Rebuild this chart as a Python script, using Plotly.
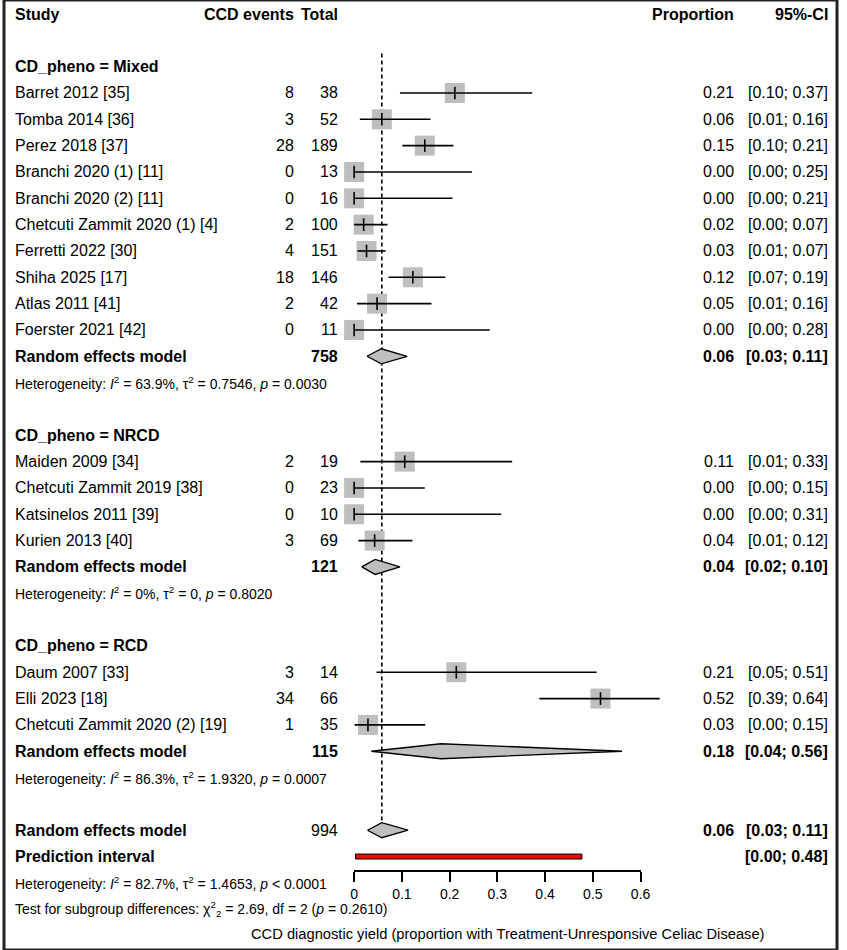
import plotly.graph_objects as go

# study rows
mixed_study = ["Barret 2012 [35]", "Tomba 2014 [36]", "Perez 2018 [37]", "Branchi 2020 (1) [11]",
               "Branchi 2020 (2) [11]", "Chetcuti Zammit 2020 (1) [4]", "Ferretti 2022 [30]",
               "Shiha 2025 [17]", "Atlas 2011 [41]", "Foerster 2021 [42]"]
mixed_events = [8, 3, 28, 0, 0, 2, 4, 18, 2, 0]
mixed_total = [38, 52, 189, 13, 16, 100, 151, 146, 42, 11]
mixed_prop = [0.211, 0.058, 0.148, 0.0, 0.0, 0.020, 0.026, 0.123, 0.048, 0.0]
mixed_lower = [0.096, 0.012, 0.101, 0.0, 0.0, 0.0, 0.007, 0.072, 0.006, 0.0]
mixed_upper = [0.373, 0.160, 0.208, 0.247, 0.206, 0.070, 0.066, 0.191, 0.162, 0.284]

nrcd_study = ["Maiden 2009 [34]", "Chetcuti Zammit 2019 [38]", "Katsinelos 2011 [39]", "Kurien 2013 [40]"]
nrcd_events = [2, 0, 0, 3]
nrcd_total = [19, 23, 10, 69]
nrcd_prop = [0.106, 0.0, 0.0, 0.043]
nrcd_lower = [0.013, 0.0, 0.0, 0.009]
nrcd_upper = [0.331, 0.148, 0.308, 0.122]

rcd_study = ["Daum 2007 [33]", "Elli 2023 [18]", "Chetcuti Zammit 2020 (2) [19]"]
rcd_events = [3, 34, 1]
rcd_total = [14, 66, 35]
rcd_prop = [0.214, 0.516, 0.029]
rcd_lower = [0.047, 0.388, 0.001]
rcd_upper = [0.508, 0.640, 0.149]

# random effects model per subgroup
group_names = ["Mixed", "NRCD", "RCD"]
group_prop = [0.057, 0.044, 0.182]
group_lower = [0.027, 0.016, 0.036]
group_upper = [0.111, 0.096, 0.561]
group_het = ["<i>I</i><sup>2</sup> = 63.9%, τ<sup>2</sup> = 0.7546, <i>p</i> = 0.0030",
             "<i>I</i><sup>2</sup> = 0%, τ<sup>2</sup> = 0, <i>p</i> = 0.8020",
             "<i>I</i><sup>2</sup> = 86.3%, τ<sup>2</sup> = 1.9320, <i>p</i> = 0.0007"]

# overall model
overall_prop = 0.058
overall_lower = 0.028
overall_upper = 0.113
pred_lower = 0.003
pred_upper = 0.477
overall_het = "<i>I</i><sup>2</sup> = 82.7%, τ<sup>2</sup> = 1.4653, <i>p</i> &lt; 0.0001"
subgroup_test = "χ<sup>2</sup><sub>2</sub> = 2.69, df = 2 (<i>p</i> = 0.2610)"

axis_ticks = [0, 0.1, 0.2, 0.3, 0.4, 0.5, 0.6]
axis_title = "CCD diagnostic yield (proportion with Treatment-Unresponsive Celiac Disease)"

groups = [
    (mixed_study, mixed_events, mixed_total, mixed_prop, mixed_lower, mixed_upper),
    (nrcd_study, nrcd_events, nrcd_total, nrcd_prop, nrcd_lower, nrcd_upper),
    (rcd_study, rcd_events, rcd_total, rcd_prop, rcd_lower, rcd_upper),
]

W, H = 847, 950
FONT = "Liberation Sans, Arial, sans-serif"
GREY = "#BEBEBE"
ROW_PX = 26.33   # pixel height of a table row
TOP_PX = 14      # pixel centre of the header row
X0_PX = 356      # pixel of proportion 0
UNIT_PX = 485.5  # pixels per 1.0 of proportion
DIAM_H = 0.285   # half height of diamonds in rows
PI_H = 0.095

# text columns (pixel positions)
COL_STUDY = 10
COL_EVENTS = 296
COL_TOTAL = 341
COL_PROP = 743
COL_CI = 839
COL_XLAB = 512

ann = []


def text(x, row, s, anchor="right", size=16, bold=False):
    if bold:
        s = "<b>" + s + "</b>"
    ann.append(dict(x=x / W, xref="paper", y=row, yref="y", text=s, showarrow=False,
                    xanchor=anchor, yanchor="middle", borderpad=0,
                    font=dict(family=FONT, size=size, color="#000000")))


def ci_text(lo, hi):
    return "[%.2f; %.2f]" % (lo, hi)


# header
text(COL_STUDY, 0, "Study", "left", bold=True)
text(COL_EVENTS, 0, "CCD events", bold=True)
text(COL_TOTAL, 0, "Total", bold=True)
text(COL_PROP, 0, "Proportion", bold=True)
text(COL_CI, 0, "95%-CI", bold=True)

sq_x, sq_y = [], []
line_x, line_y = [], []
traces = []

row = 2
for g, (study, events, total, prop, lower, upper) in enumerate(groups):
    text(COL_STUDY, row, "CD_pheno = " + group_names[g], "left", bold=True)
    row += 1
    for i in range(len(study)):
        text(COL_STUDY, row, study[i], "left")
        text(COL_EVENTS, row, str(events[i]))
        text(COL_TOTAL, row, str(total[i]))
        text(COL_PROP, row, "%.2f" % prop[i])
        text(COL_CI, row, ci_text(lower[i], upper[i]))
        sq_x.append(prop[i])
        sq_y.append(row)
        line_x += [lower[i], upper[i], None]
        line_y += [row, row, None]
        row += 1
    # subgroup random effects diamond
    p, lo, hi = group_prop[g], group_lower[g], group_upper[g]
    traces.append(go.Scatter(x=[lo, p, hi, p, lo], y=[row, row - DIAM_H, row, row + DIAM_H, row],
                             mode="lines", fill="toself", fillcolor=GREY,
                             line=dict(color="#000000", width=1.3)))
    text(COL_STUDY, row, "Random effects model", "left", bold=True)
    text(COL_TOTAL, row, str(sum(total)), bold=True)
    text(COL_PROP, row, "%.2f" % p, bold=True)
    text(COL_CI, row, ci_text(lo, hi), bold=True)
    text(COL_STUDY, row + 1, "Heterogeneity: " + group_het[g], "left", size=14)
    row += 3

# overall model
grand_total = sum(sum(gr[2]) for gr in groups)
text(COL_STUDY, row, "Random effects model", "left", bold=True)
text(COL_TOTAL, row, str(grand_total))
text(COL_PROP, row, "%.2f" % overall_prop, bold=True)
text(COL_CI, row, ci_text(overall_lower, overall_upper), bold=True)
traces.append(go.Scatter(x=[overall_lower, overall_prop, overall_upper, overall_prop, overall_lower],
                         y=[row, row - DIAM_H, row, row + DIAM_H, row],
                         mode="lines", fill="toself", fillcolor=GREY,
                         line=dict(color="#000000", width=1.3)))
overall_row = row
row += 1
text(COL_STUDY, row, "Prediction interval", "left", bold=True)
text(COL_CI, row, ci_text(pred_lower, pred_upper), bold=True)
traces.append(go.Scatter(x=[pred_lower, pred_upper, pred_upper, pred_lower, pred_lower],
                         y=[row - PI_H, row - PI_H, row + PI_H, row + PI_H, row - PI_H],
                         mode="lines", fill="toself", fillcolor="#FF0000",
                         line=dict(color="#000000", width=1)))
row += 1
text(COL_STUDY, row, "Heterogeneity: " + overall_het, "left", size=14)
row += 1
text(COL_STUDY, row, "Test for subgroup differences: " + subgroup_test, "left", size=14)
text(COL_XLAB, row + 0.95, axis_title, "center", size=14.7)

fig = go.Figure()

# dotted reference line at the overall estimate
fig.add_trace(go.Scatter(x=[overall_prop, overall_prop], y=[1.5, overall_row - DIAM_H],
                         mode="lines", line=dict(color="#000000", width=1.6, dash="4px,3px")))
fig.add_trace(go.Scatter(x=sq_x, y=sq_y, mode="markers",
                         marker=dict(symbol="square", size=20, color=GREY, line=dict(width=0))))
fig.add_trace(go.Scatter(x=line_x, y=line_y, mode="lines", line=dict(color="#000000", width=1.6)))
fig.add_trace(go.Scatter(x=sq_x, y=sq_y, mode="markers",
                         marker=dict(symbol="line-ns", size=9, line=dict(color="#000000", width=1.6))))
for t in traces:
    fig.add_trace(t)

# carrier trace for the visible proportion axis
fig.add_trace(go.Scatter(x=axis_ticks, y=[0] * len(axis_ticks), xaxis="x2", yaxis="y2",
                         mode="markers", marker=dict(opacity=0)))

axis_px = 870
fig.update_layout(
    width=W, height=H,
    margin=dict(l=0, r=0, t=0, b=0),
    paper_bgcolor="#FFFFFF", plot_bgcolor="#FFFFFF",
    showlegend=False, hovermode=False,
    xaxis=dict(domain=[0, 1], range=[-X0_PX / UNIT_PX, (W - X0_PX) / UNIT_PX], visible=False),
    yaxis=dict(domain=[0, 1], range=[(H - TOP_PX) / ROW_PX, -TOP_PX / ROW_PX], visible=False),
    xaxis2=dict(domain=[X0_PX / W, (X0_PX + 0.6 * UNIT_PX) / W], range=[0, 0.6], anchor="y2",
                tickvals=axis_ticks, ticktext=["%g" % v for v in axis_ticks],
                showline=True, linecolor="#000000", linewidth=1.6, showgrid=False, zeroline=False,
                ticks="outside", ticklen=10, tickwidth=1.6, tickcolor="#000000",
                tickfont=dict(family=FONT, size=14, color="#000000")),
    yaxis2=dict(domain=[1 - axis_px / H, 1 - axis_px / H + 0.005], anchor="x2", visible=False,
                range=[0, 1]),
    annotations=ann,
    shapes=[dict(type="rect", xref="paper", yref="paper", x0=0, x1=1, y0=0, y1=1,
                 line=dict(color="#222222", width=3))],
)

fig.write_html("out.html", config={"displayModeBar": False},
               post_script="document.body.style.margin='0px';document.body.style.overflow='hidden';")
